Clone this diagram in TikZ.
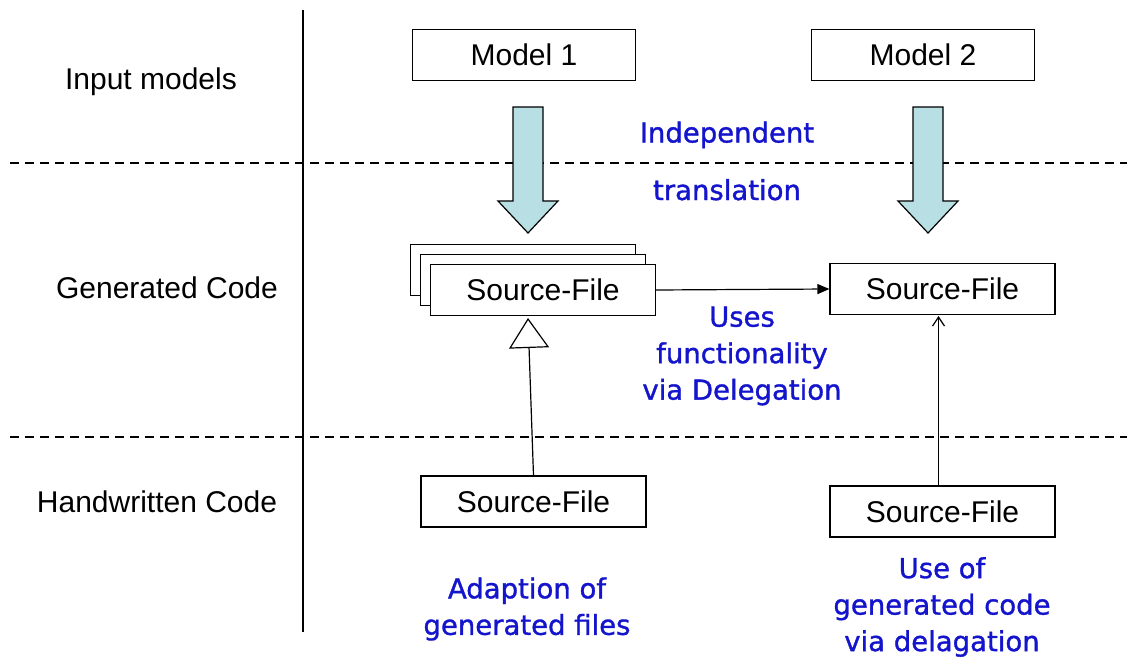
\documentclass[tikz,border=0pt]{standalone}
\usepackage{fontspec}
\setmainfont{Liberation Sans}
\newfontfamily\comicfont[FakeBold=1.2]{DejaVu Sans}
\usetikzlibrary{arrows.meta,calc}
\definecolor{bluetxt}{RGB}{20,20,205}
\definecolor{arrowfill}{RGB}{184,223,227}
\tikzset{
  box/.style={draw=black,line width=1.2pt,fill=white,minimum width=225pt,minimum height=51pt,inner sep=0pt,font=\fontsize{30}{34}\selectfont},
  mbox/.style={draw=black,line width=1.2pt,fill=white,minimum width=223pt,minimum height=51pt,inner sep=0pt,font=\fontsize{30}{34}\selectfont},
  rowlabel/.style={font=\fontsize{30}{34}\selectfont,inner sep=0pt},
  note/.style={text=bluetxt,font=\comicfont\fontsize{27.5}{36.5}\selectfont,align=center,inner sep=0pt},
  sep/.style={line width=1.2pt,dash pattern=on 9pt off 6pt},
  bigarrow/.style={draw=black,line width=1.2pt,fill=arrowfill},
  conn/.style={line width=1.2pt}
}
\begin{document}
\begin{tikzpicture}[x=1pt,y=-1pt]
\useasboundingbox (0,0) rectangle (1127,660);
% separators
\draw[line width=1.3pt] (303,10) -- (303,632);
\draw[sep] (10,163) -- (1127,163);
\draw[sep] (10,437) -- (1127,437);
% row labels
\node[rowlabel] (l1) at (151,82) {Input models};
\node[rowlabel] (l2) at (167,288) {Generated Code};
\node[rowlabel] (l3) at (157,502) {Handwritten Code};
% models
\node[mbox] (m1) at (524,55) {Model 1};
\node[mbox] (m2) at (923,55) {Model 2};
% big arrows
\draw[bigarrow] (513,107) -- (543,107) -- (543,201) -- (558,201) -- (528,233) -- (498,201) -- (513,201) -- cycle;
\draw[bigarrow] (913,107) -- (943,107) -- (943,201) -- (958,201) -- (928,233) -- (898,201) -- (913,201) -- cycle;
% stacked generated files
\node[box] (g1c) at (523,270) {};
\node[box] (g1b) at (533,280) {};
\node[box] (g1) at (543,290) {Source-File};
\node[box] (g2) at (942.5,289) {Source-File};
% handwritten files
\node[box] (h1) at (533.5,501.5) {Source-File};
\node[box] (h2) at (942.5,511.5) {Source-File};
% connectors
\draw[conn,-{Triangle[length=12pt,width=10pt]}] (g1.east) -- (g2.west);
\coordinate (gtip) at (528,318);
\draw[conn,-{Triangle[open,length=30pt,width=40pt,line width=1.2pt]}] (h1.north) -- (gtip);
\coordinate (rtip) at (938.5,316);
\draw[conn,-{Straight Barb[length=9pt,width=12pt,line width=1.2pt]}] (h2.north -| rtip) -- (rtip);
% notes
\node[note] (n1) at (727,161) {Independent\\[21pt]translation};
\node[note] (n2) at (742,356) {Uses\\functionality\\via Delegation};
\node[note] (n3) at (527,609) {Adaption of\\generated files};
\node[note] (n4) at (942,607) {Use of\\generated code\\via delagation};
\end{tikzpicture}
\end{document}
